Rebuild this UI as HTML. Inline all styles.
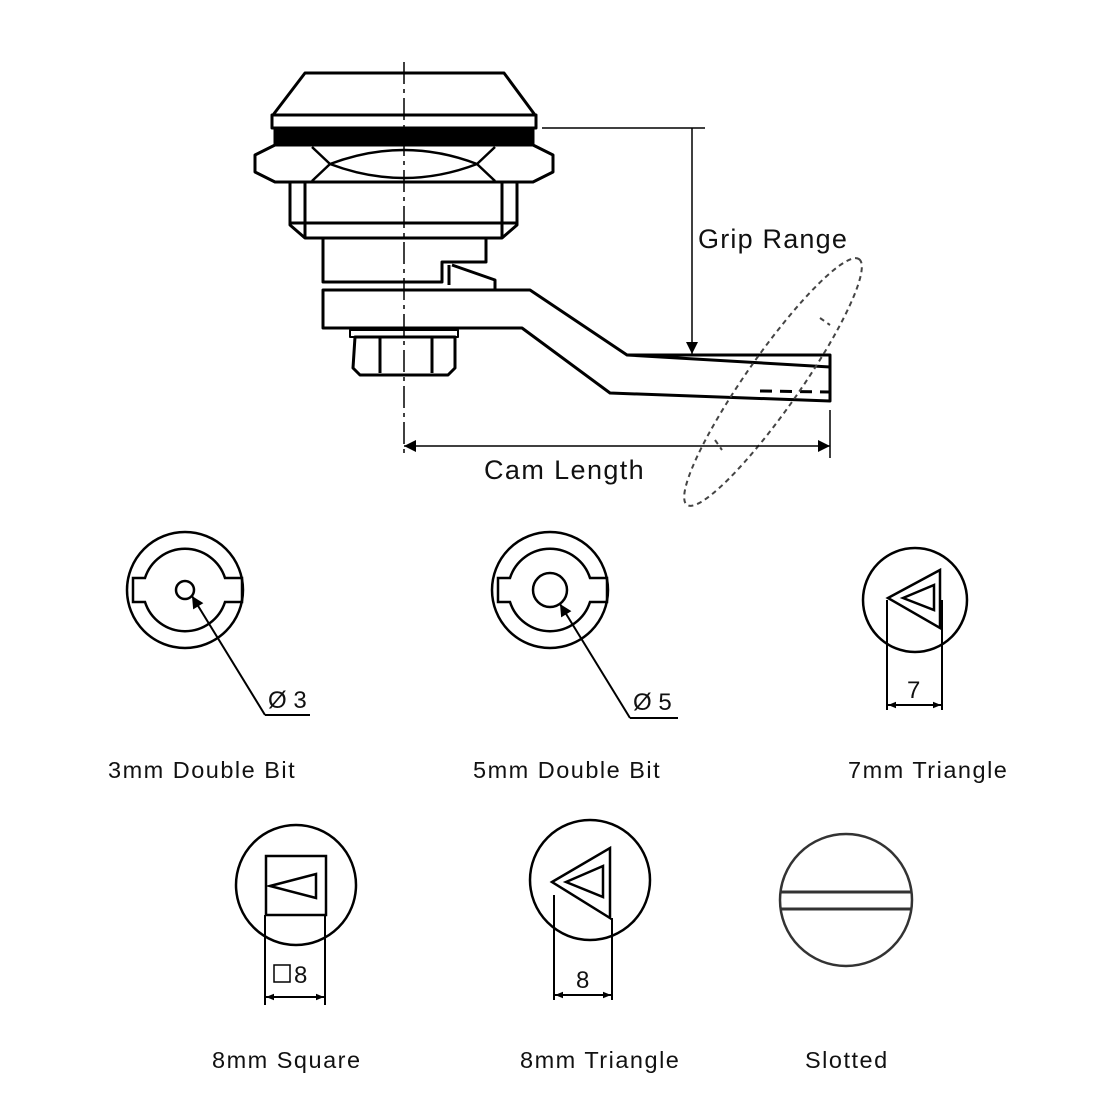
<!DOCTYPE html>
<html><head><style>
html,body{margin:0;padding:0;background:#fff;}
svg{display:block;}
text{font-family:"Liberation Sans",sans-serif;fill:#111;}
</style></head><body>
<svg width="1100" height="1100" viewBox="0 0 1100 1100" xmlns="http://www.w3.org/2000/svg">
<defs>
<marker id="a" viewBox="0 0 10 10" refX="10" refY="5" markerWidth="10" markerHeight="8" orient="auto-start-reverse" markerUnits="userSpaceOnUse"><path d="M0,1 L10,5 L0,9z" fill="#000"/></marker>
<marker id="b" viewBox="0 0 10 10" refX="10" refY="5" markerWidth="20" markerHeight="12" orient="auto-start-reverse" markerUnits="userSpaceOnUse"><path d="M0,0 L10,5 L0,10z" fill="#000"/></marker>
</defs>
<g fill="none" stroke="#000" stroke-width="3" stroke-linejoin="round">
<path d="M305,73 L504,73 L535,115 L273,115 Z" fill="#fff"/>
<rect x="272" y="115" width="264" height="13" fill="#fff"/>
<rect x="275" y="128" width="258" height="17" fill="#000"/>
<path d="M275,145 L533,145 L553,155 L553,172 L533,182 L275,182 L255,172 L255,155 Z" fill="#fff"/>
<path d="M312,147 L330,164 L312,181 M495,147 L477,164 L495,181 M330,164 Q404,136 477,164 M330,164 Q404,192 477,164" stroke-width="2.5"/>
<path d="M290,182 L517,182 L517,225 L502,238 L305,238 L290,225 Z" fill="#fff"/>
<path d="M305,182 L305,238 M502,182 L502,238 M290,223 L517,223"/>
<path d="M323,238 L486,238 L486,262 L442,262 L442,282 L323,282 Z" fill="#fff"/>
<path d="M449,265 L449,285 M452,265 L495,280 L495,290"/>
<path d="M323,290 L530,290 L627,355 L830,355 L830,401 L610,393 L522,328 L323,328 Z" fill="#fff"/>
<path d="M627,355 L830,367"/>
<rect x="350" y="330" width="108" height="7" fill="#fff" stroke-width="2"/>
<path d="M355,337 L455,337 L455,368 L448,375 L360,375 L353,368 Z" fill="#fff"/>
<path d="M380,337 L380,373 M432,337 L432,373"/>
</g>
<path d="M760,391 L830,392" stroke="#000" stroke-width="3" stroke-dasharray="12,8"/>
<line x1="404" y1="62" x2="404" y2="458" stroke="#000" stroke-width="1.5" stroke-dasharray="22,5,4,5"/>
<g fill="none" stroke="#444" stroke-width="2" stroke-dasharray="5,4">
<ellipse cx="773" cy="382" rx="150" ry="27" transform="rotate(-55 773 382)"/>
<path d="M715,440 L722,450 M820,318 L830,325"/>
</g>
<g stroke="#000" stroke-width="1.5" fill="none">
<line x1="542" y1="128" x2="705" y2="128"/>
<line x1="692" y1="128" x2="692" y2="354" marker-end="url(#b)"/>
<line x1="830" y1="410" x2="830" y2="458"/>
<line x1="404" y1="446" x2="830" y2="446" marker-start="url(#b)" marker-end="url(#b)"/>
</g>
<text x="698" y="248" font-size="27" letter-spacing="1.2">Grip Range</text>
<text x="484" y="479" font-size="27" letter-spacing="1.4">Cam Length</text>

<g fill="none" stroke="#000" stroke-width="2.5">
<circle cx="185" cy="590" r="58"/>
<path d="M145,578 A42,42 0 0 1 225,578 L242,578 L242,602 L225,602 A42,42 0 0 1 145,602 L133,602 L133,578 Z"/>
<circle cx="185" cy="590" r="9"/>
<circle cx="550" cy="590" r="58"/>
<path d="M510,578 A42,42 0 0 1 590,578 L607,578 L607,602 L590,602 A42,42 0 0 1 510,602 L498,602 L498,578 Z"/>
<circle cx="550" cy="590" r="17"/>
<circle cx="915" cy="600" r="52"/>
<path d="M888,598 L940,570 L940,628 Z"/>
<path d="M903,598 L934,585 L934,610 Z"/>
<circle cx="296" cy="885" r="60"/>
<rect x="266" y="856" width="60" height="59"/>
<path d="M270,886 L316,874 L316,898 Z"/>
<circle cx="590" cy="880" r="60"/>
<path d="M552,882 L610,848 L610,918 Z"/>
<path d="M566,882 L603,866 L603,897 Z"/>
<circle cx="846" cy="900" r="66" stroke="#333"/>
<path d="M780,892 L911,892 M780,909 L911,909" stroke="#333" stroke-width="3"/>
</g>
<g stroke="#000" stroke-width="2" fill="none">
<line x1="265" y1="715" x2="310" y2="715"/>
<line x1="265" y1="715" x2="192" y2="596" marker-end="url(#b)"/>
<line x1="630" y1="718" x2="678" y2="718"/>
<line x1="630" y1="718" x2="560" y2="604" marker-end="url(#b)"/>
<line x1="887" y1="600" x2="887" y2="710"/><line x1="942" y1="600" x2="942" y2="710"/>
<line x1="888" y1="705" x2="941" y2="705" marker-start="url(#a)" marker-end="url(#a)"/>
<line x1="265" y1="915" x2="265" y2="1005"/><line x1="325" y1="915" x2="325" y2="1005"/>
<line x1="266" y1="997" x2="324" y2="997" marker-start="url(#a)" marker-end="url(#a)"/>
<line x1="554" y1="895" x2="554" y2="1000"/><line x1="612" y1="918" x2="612" y2="1000"/>
<line x1="555" y1="995" x2="611" y2="995" marker-start="url(#a)" marker-end="url(#a)"/>
<rect x="274" y="965" width="16" height="17" stroke-width="1.5"/>
</g>
<text x="268" y="708" font-size="24">Ø 3</text>
<text x="633" y="710" font-size="24">Ø 5</text>
<text x="907" y="698" font-size="24">7</text>
<text x="294" y="983" font-size="24">8</text>
<text x="576" y="988" font-size="24">8</text>
<g font-size="23.5" letter-spacing="1.5">
<text x="108" y="778">3mm Double Bit</text>
<text x="473" y="778">5mm Double Bit</text>
<text x="848" y="778">7mm Triangle</text>
<text x="212" y="1068">8mm Square</text>
<text x="520" y="1068">8mm Triangle</text>
<text x="805" y="1068">Slotted</text>
</g>
</svg>
</body></html>
